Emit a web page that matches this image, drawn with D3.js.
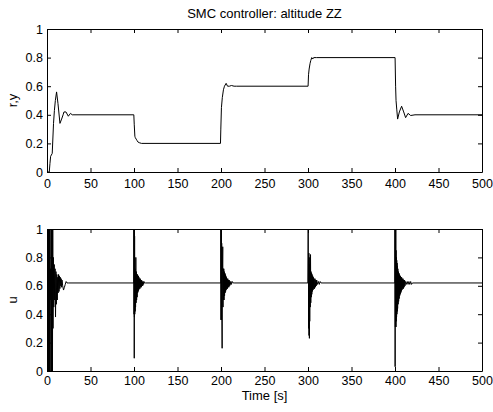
<!DOCTYPE html>
<html>
<head>
<meta charset="utf-8">
<script src="https://cdn.jsdelivr.net/npm/d3@7"></script>
<style>
body{margin:0;background:#fff;}
svg text{font-family:"Liberation Sans",Arial,sans-serif;font-size:13px;fill:#000;}
.axis path,.axis line{stroke:#000;}
</style>
</head>
<body>
<div id="canvas"></div>
<script>
//tick values
var xTicks = [0,50,100,150,200,250,300,350,400,450,500];
var yTicks = [0,0.2,0.4,0.6,0.8,1];

//output y as [time, value]
var yData = [
  [0,0],[2.6,0],[3.4,0.06],[4.2,0.11],[6,0.13],[7.5,0.34],[8.5,0.43],[9.6,0.5],[11,0.56],
  [12.6,0.48],[14.9,0.34],[16.8,0.37],[18.5,0.4],[19.5,0.42],[21.8,0.42],[24.5,0.39],
  [27,0.41],[29,0.4],[31,0.4],
  [99.8,0.4],[100.3,0.33],[101,0.25],[101.5,0.24],[102.5,0.23],[103.5,0.22],[104.5,0.21],
  [106,0.205],[108.6,0.2],
  [199.4,0.2],[199.8,0.3],[200.5,0.45],[201.5,0.52],[202.8,0.575],[204,0.6],[205.9,0.62],
  [207.5,0.6],[209.7,0.6],[212,0.605],[215,0.6],[218,0.6],
  [300.1,0.6],[300.6,0.68],[301.3,0.72],[302.4,0.76],[303.2,0.78],[304.3,0.8],[305.5,0.79],
  [306.5,0.8],[310,0.8],
  [400.1,0.8],[400.7,0.6],[401.2,0.5],[402,0.44],[403,0.37],[405,0.42],[407.6,0.46],
  [410,0.42],[412.2,0.38],[415,0.41],[418,0.395],[423,0.4],[500,0.4]
];

//control u as [time, value]
var uData = [
  [0,0.6],[0.3,0.88],[0.6,0.5],[0.9,0.85],[1.2,0],[1.5,1],[1.8,0],[2.1,1],[2.4,0],[2.7,1],
  [3,0],[3.3,1],[3.6,0.7],[3.9,0.5],[4.2,0.72],[4.5,0],[4.8,1],[5.1,0],[5.4,1],[5.7,0],
  [6,1],[6.3,0],[6.6,1],[6.9,0.3],[7.3,0.8],[7.8,0.45],[8.3,0.75],[8.8,0.5],[9.3,0.72],
  [9.8,0.38],[10.3,0.7],[10.8,0.47],[11.3,0.68],[11.8,0.5],[12.3,0.66],[12.8,0.55],[13.3,0.68],
  [13.8,0.56],[14.3,0.67],[14.8,0.58],[15.3,0.66],[15.8,0.6],[16.3,0.65],[16.8,0.59],
  [17.3,0.64],[18,0.6],[19,0.57],[20,0.59],[21,0.61],[22,0.63],
  [23,0.62],[25,0.62],
  [99.9,0.62],[100,1],[100.1,0.4],[100.2,1],[100.3,0.09],[100.4,1],[100.5,0.38],
  [100.7,0.95],[100.9,0.4],[101.1,0.72],[101.3,0.42],[101.5,0.7],[101.8,0.45],[102.1,0.8],
  [102.4,0.48],[102.7,0.7],[103,0.5],[103.3,0.68],[103.6,0.52],[103.9,0.68],[104.2,0.55],
  [104.5,0.67],[104.8,0.56],[105.1,0.67],[105.4,0.57],[105.7,0.66],[106,0.58],[106.4,0.65],
  [106.8,0.58],[107.2,0.65],[107.6,0.59],[108,0.64],[108.4,0.59],[108.8,0.64],[109.2,0.6],
  [109.6,0.63],[110,0.6],[110.5,0.63],[111,0.61],[111.5,0.63],[112,0.62],[113,0.62],
  [199.9,0.62],[200,1],[200.1,0.36],[200.2,1],[200.3,0.36],[200.4,1],[200.6,0.36],
  [200.8,0.9],[201,0.4],[201.3,0.16],[201.6,0.7],[202,0.875],[202.3,0.45],[202.6,0.72],
  [202.9,0.5],[203.2,0.72],[203.5,0.5],[203.8,0.7],[204.1,0.53],[204.4,0.69],[204.7,0.55],
  [205,0.68],[205.3,0.56],[205.6,0.67],[205.9,0.57],[206.2,0.66],[206.6,0.58],[207,0.65],
  [207.4,0.58],[207.8,0.65],[208.2,0.59],[208.6,0.64],[209,0.59],[209.5,0.64],[210,0.6],
  [210.5,0.63],[211,0.61],[211.5,0.63],[212,0.61],[213,0.63],[214,0.62],[216,0.62],
  [299.9,0.62],[300.2,1],[300.4,0.62],[300.6,0.8],[300.8,0.3],[301,0.83],[301.2,0.25],
  [301.4,0.8],[301.6,0.23],[301.8,0.75],[302,0.35],[302.3,0.72],[302.6,0.45],[302.9,0.82],
  [303.2,0.48],[303.5,0.7],[303.8,0.52],[304.1,0.69],[304.4,0.54],[304.7,0.68],[305,0.56],
  [305.4,0.67],[305.8,0.57],[306.2,0.66],[306.6,0.58],[307,0.65],[307.5,0.58],[308,0.65],
  [308.5,0.59],[309,0.64],[309.5,0.6],[310,0.64],[311,0.61],[312,0.63],[313,0.61],
  [314,0.63],[315,0.62],
  [399.9,0.62],[400,1],[400.15,0.03],[400.3,1],[400.45,0.31],[400.6,1],[400.75,0.31],
  [400.9,1],[401.05,0.31],[401.2,0.85],[401.4,0.35],[401.6,0.8],[401.8,0.38],[402,0.78],
  [402.2,0.4],[402.4,0.76],[402.6,0.42],[402.8,0.74],[403,0.44],[403.3,0.72],[403.6,0.47],
  [403.9,0.7],[404.2,0.49],[404.5,0.69],[404.8,0.51],[405.1,0.68],[405.4,0.53],[405.7,0.67],
  [406,0.54],[406.3,0.67],[406.6,0.55],[406.9,0.66],[407.2,0.56],[407.6,0.66],[408,0.57],
  [408.4,0.65],[408.8,0.58],[409.2,0.65],[409.6,0.58],[410,0.64],[410.5,0.59],[411,0.64],
  [411.5,0.6],[412,0.63],[413,0.61],[414,0.63],[415,0.61],[416,0.63],[417,0.61],
  [418,0.63],[419,0.61],[420,0.62],[500,0.62]
];

var outerWidth = 493, outerHeight = 412;

var svg = d3.select('#canvas')
    .append('svg')
    .attr('width',outerWidth)
    .attr('height',outerHeight);

svg.append('rect').attr('width',outerWidth).attr('height',outerHeight).attr('fill','#fff');

//axes boxes, same as the matlab subplots
var top1 = {l:47,t:29,w:435,h:143};
var bot1 = {l:47,t:229,w:435,h:142};

function panel(box, data, yLabel, id, padX){
    var g = svg.append('g').attr('transform','translate(' + box.l + ',' + box.t + ')');

    var scaleX = d3.scaleLinear().domain([0,500]).range([0,box.w]);
    var scaleY = d3.scaleLinear().domain([0,1]).range([box.h,0]);

    g.append('clipPath').attr('id',id)
        .append('rect').attr('width',box.w).attr('height',box.h);

    var line = d3.line()
        .x(function(d){return scaleX(d[0]);})
        .y(function(d){return scaleY(d[1]);});

    g.append('path')
        .datum(data)
        .attr('clip-path','url(#' + id + ')')
        .attr('d',line)
        .attr('fill','none')
        .attr('stroke','#000')
        .attr('stroke-width',1);

    //ticks go inward on all four sides
    g.append('g').attr('class','axis')
        .attr('transform','translate(0,' + box.h + ')')
        .call(d3.axisBottom(scaleX).tickValues(xTicks).tickSizeInner(-4).tickSizeOuter(0).tickPadding(padX));
    g.append('g').attr('class','axis')
        .call(d3.axisTop(scaleX).tickValues(xTicks).tickSizeInner(-4).tickSizeOuter(0).tickFormat(''));
    g.append('g').attr('class','axis')
        .call(d3.axisLeft(scaleY).tickValues(yTicks).tickSizeInner(-4).tickSizeOuter(0).tickPadding(4)
            .tickFormat(function(d){return d3.format('')(+d.toFixed(1));}));
    g.append('g').attr('class','axis')
        .attr('transform','translate(' + box.w + ',0)')
        .call(d3.axisRight(scaleY).tickValues(yTicks).tickSizeInner(-4).tickSizeOuter(0).tickFormat(''));

    g.selectAll('.axis text').style('font-size','12.5px').style('font-family','"Liberation Sans",Arial,sans-serif');

    g.append('text')
        .attr('transform','translate(-30,' + (box.h/2) + ') rotate(-90)')
        .attr('text-anchor','middle')
        .text(yLabel);

    return g;
}

var gTop = panel(top1, yData, 'r,y', 'clipTop', 7);
var gBot = panel(bot1, uData, 'u', 'clipBot', 5);

gTop.append('text')
    .attr('x',top1.w/2)
    .attr('y',-11)
    .attr('text-anchor','middle')
    .text('SMC controller: altitude ZZ');

gBot.append('text')
    .attr('x',bot1.w/2)
    .attr('y',bot1.h + 29)
    .attr('text-anchor','middle')
    .text('Time [s]');
</script>
</body>
</html>
